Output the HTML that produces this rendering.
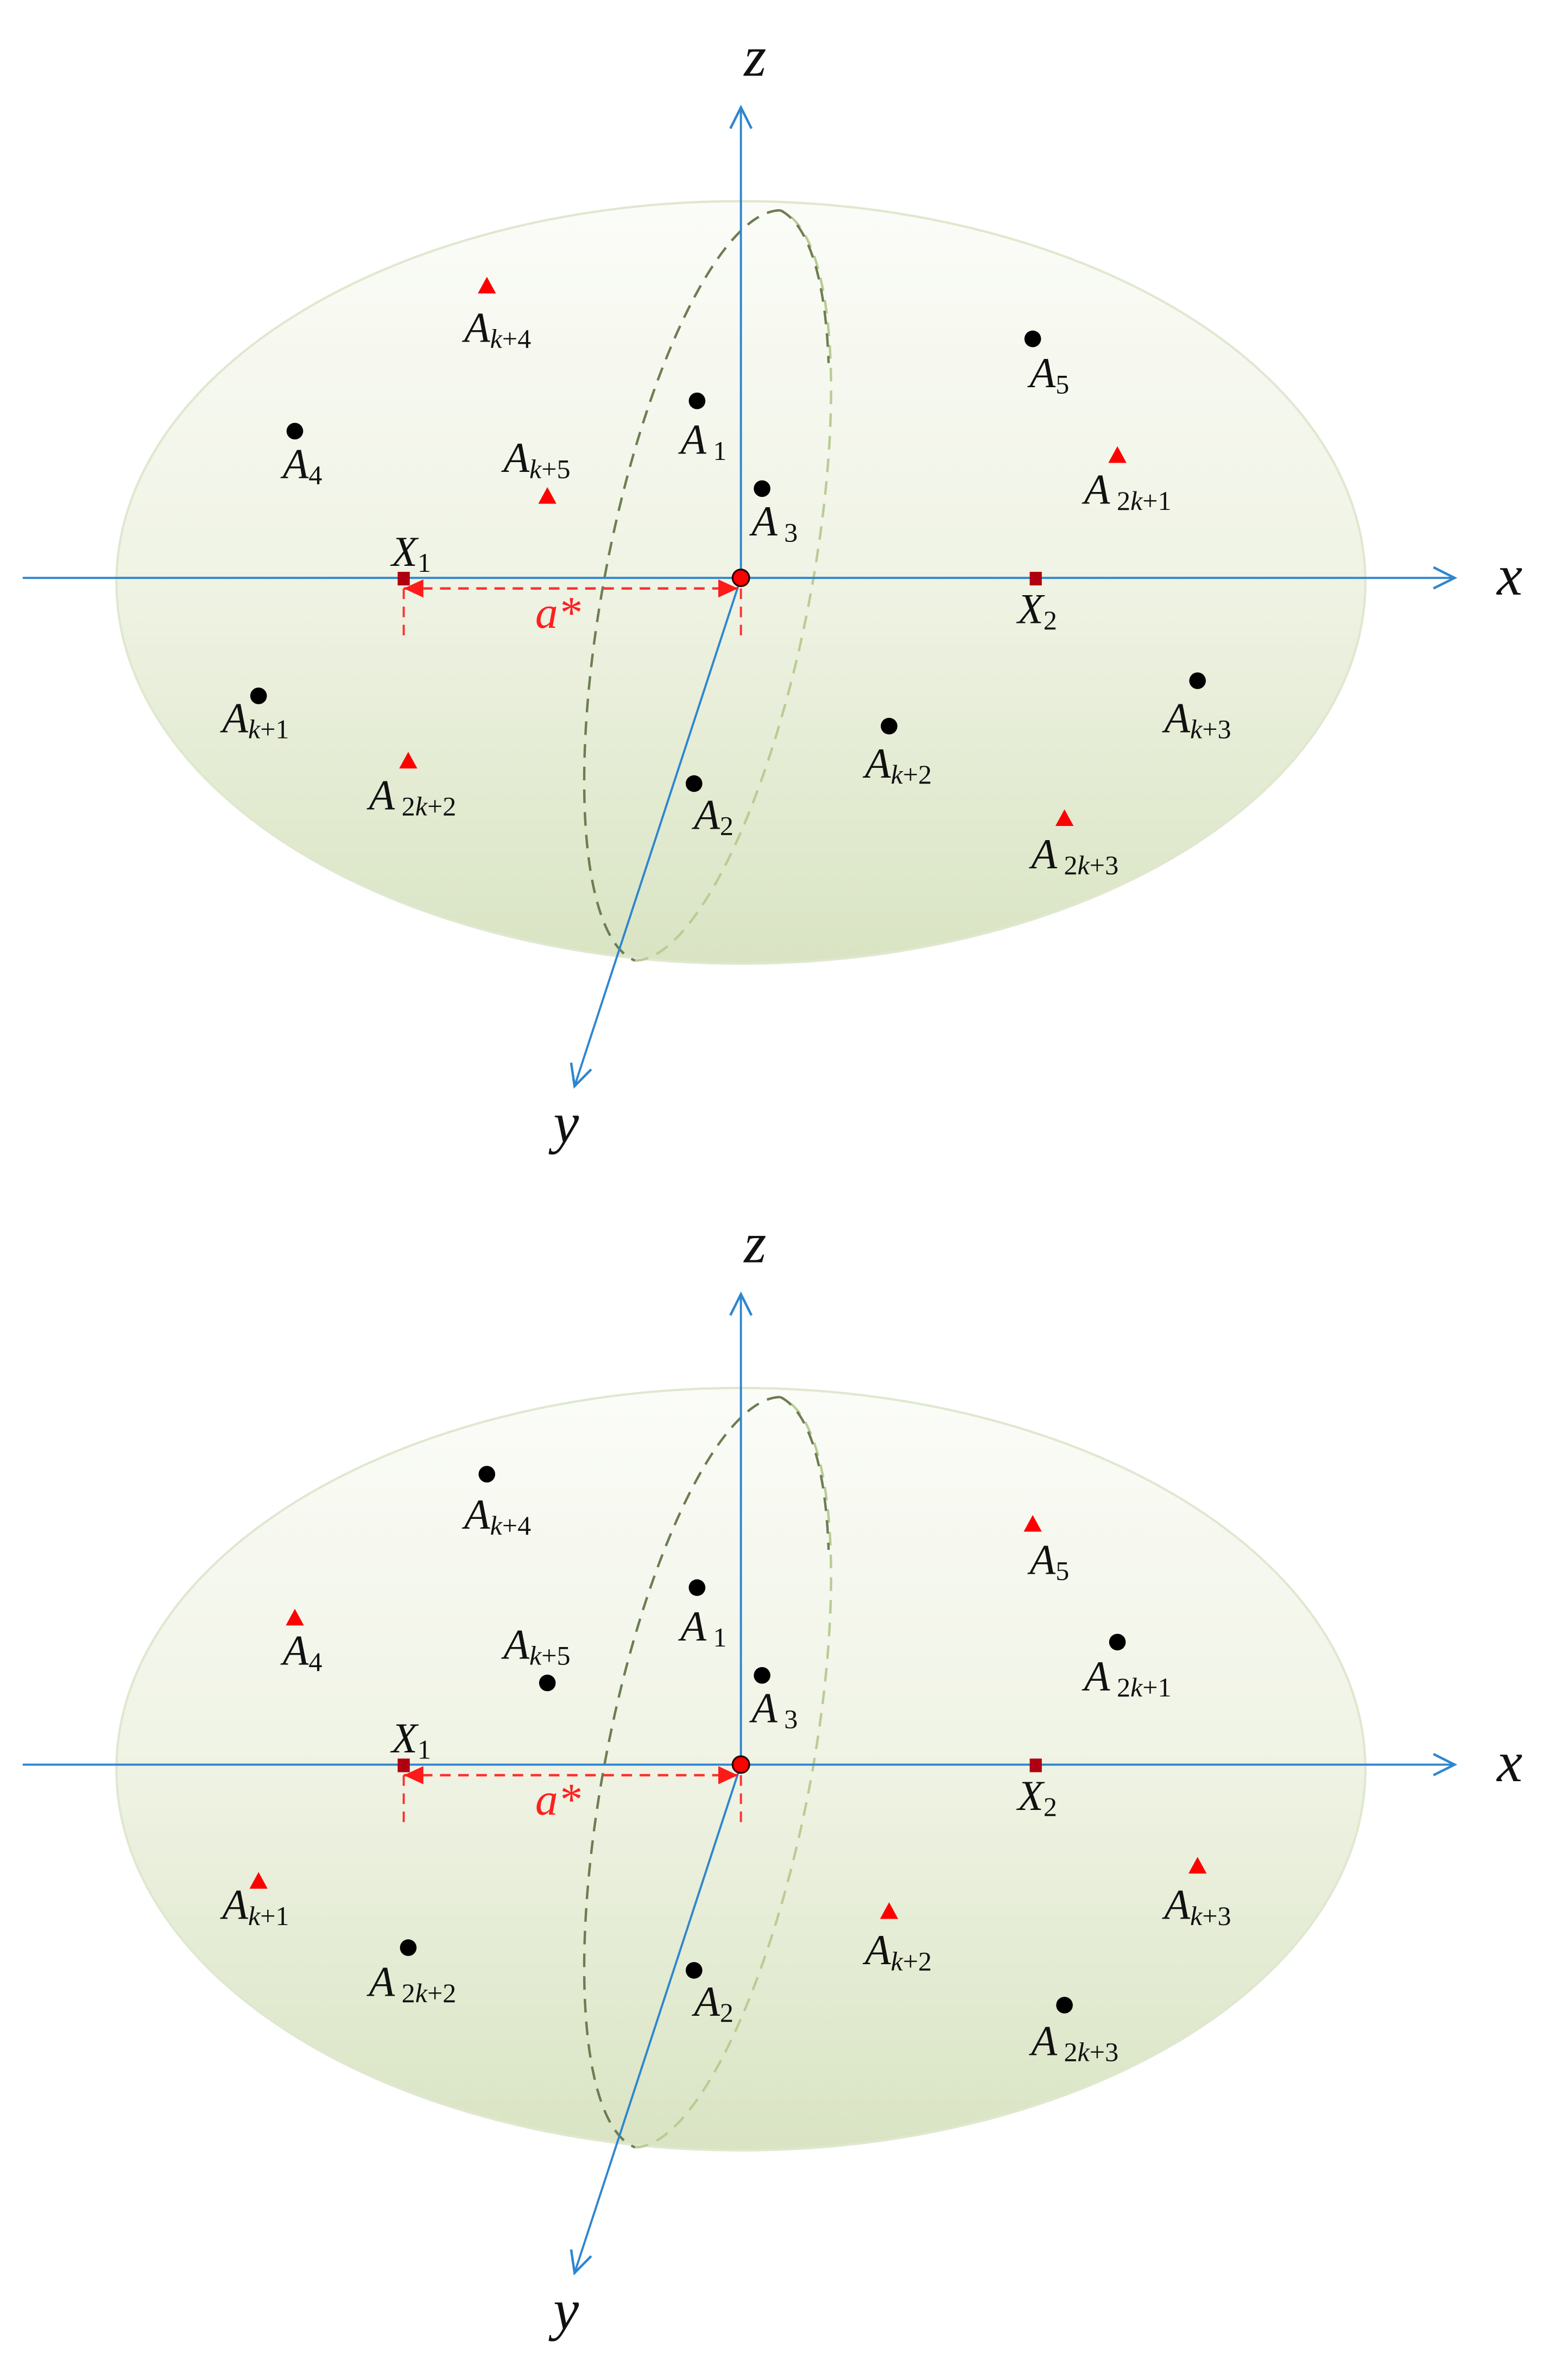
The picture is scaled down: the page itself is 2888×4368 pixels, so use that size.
<!DOCTYPE html>
<html><head><meta charset="utf-8"><style>
html,body{margin:0;padding:0;background:#fff}
svg{display:block;font-family:"Liberation Serif","Times New Roman",Times,serif}
svg text, svg tspan{font-family:"Liberation Serif","Times New Roman",Times,serif}
text{fill:#111}
.L{font-style:italic;font-size:28px}
.s{font-style:normal;font-size:18px}
.k{font-style:italic;font-size:18px}
.ax{font-style:italic;font-size:38px}
</style></head><body>
<svg width="2888" height="4368" viewBox="0 0 1037 1568" preserveAspectRatio="none" xmlns="http://www.w3.org/2000/svg" font-family="Liberation Serif, Times New Roman, serif">
<defs>
<linearGradient id="g" x1="0" y1="0" x2="0" y2="1">
<stop offset="0" stop-color="#fbfcf8"/><stop offset="0.5" stop-color="#eff3e4"/><stop offset="1" stop-color="#d9e4c3"/>
</linearGradient>
<marker id="ah" markerWidth="20" markerHeight="20" refX="16" refY="8" orient="auto" markerUnits="userSpaceOnUse">
<path d="M2,1 L16,8 L2,15" fill="none" stroke="#2f86cf" stroke-width="1.6"/>
</marker>
<marker id="ra" markerWidth="14" markerHeight="12" refX="13" refY="6" orient="auto-start-reverse" markerUnits="userSpaceOnUse">
<path d="M0,0 L13,6 L0,12 Z" fill="#ff1a1a"/>
</marker>
</defs>

<!-- ===== TOP ===== -->
<g>
<ellipse cx="490" cy="385" rx="413" ry="252" fill="url(#g)" stroke="#dfe8cf" stroke-width="1.5"/>
<path d="M516,139 A72,253 11 0 0 420,635" fill="none" stroke="#6d7d52" stroke-width="1.6" stroke-dasharray="9,6"/>
<path d="M420,635 A72,253 11 0 0 516,139" fill="none" stroke="#b9cc94" stroke-width="1.6" stroke-dasharray="9,6"/>
<path d="M516,139 A72,253 11 0 1 548,240" fill="none" stroke="#6d7d52" stroke-width="1.6" stroke-dasharray="9,6"/>
<line x1="15" y1="382" x2="962" y2="382" stroke="#2f86cf" stroke-width="1.4" marker-end="url(#ah)"/>
<line x1="490" y1="382" x2="490" y2="71" stroke="#2f86cf" stroke-width="1.4" marker-end="url(#ah)"/>
<line x1="490" y1="382" x2="380" y2="718" stroke="#2f86cf" stroke-width="1.4" marker-end="url(#ah)"/>
<line x1="267" y1="389" x2="488" y2="389" stroke="#ff3030" stroke-width="1.6" stroke-dasharray="7,5" marker-start="url(#ra)" marker-end="url(#ra)"/>
<line x1="267" y1="389" x2="267" y2="420" stroke="#ff3030" stroke-width="1.4" stroke-dasharray="7,5"/>
<line x1="490" y1="389" x2="490" y2="420" stroke="#ff3030" stroke-width="1.4" stroke-dasharray="7,5"/>
<rect x="263" y="378" width="8" height="9" fill="#b00010"/>
<rect x="681" y="378" width="8" height="9" fill="#b00010"/>
<circle cx="490" cy="382" r="5.5" fill="#f00" stroke="#300" stroke-width="1.2"/>
<text x="990" y="393" class="ax">x</text>
<text x="492" y="50" class="ax">z</text>
<text x="366" y="755" class="ax">y</text>
<text x="354" y="415" style="font-style:italic;font-size:30px;fill:#ff2020">a*</text>
<text x="259" y="374" class="L">X<tspan class="s" dy="4">1</tspan></text>
<text x="673" y="412" class="L">X<tspan class="s" dy="4">2</tspan></text>
<path d="M322,183 L328,194 L316,194Z" fill="#f00"/>
<circle cx="683" cy="224" r="5.5" fill="#000"/>
<circle cx="195" cy="285" r="5.5" fill="#000"/>
<path d="M362,322 L368,333 L356,333Z" fill="#f00"/>
<circle cx="461" cy="265" r="5.5" fill="#000"/>
<circle cx="504" cy="323" r="5.5" fill="#000"/>
<path d="M739,295 L745,306 L733,306Z" fill="#f00"/>
<circle cx="171" cy="460" r="5.5" fill="#000"/>
<path d="M270,497 L276,508 L264,508Z" fill="#f00"/>
<circle cx="459" cy="518" r="5.5" fill="#000"/>
<circle cx="588" cy="480" r="5.5" fill="#000"/>
<circle cx="792" cy="450" r="5.5" fill="#000"/>
<path d="M704,535 L710,546 L698,546Z" fill="#f00"/>
<text x="307" y="226" class="L">A<tspan class="k" dy="4">k</tspan><tspan class="s">+4</tspan></text>
<text x="681" y="256" class="L">A<tspan class="s" dy="4">5</tspan></text>
<text x="187" y="316" class="L">A<tspan class="s" dy="4">4</tspan></text>
<text x="333" y="312" class="L">A<tspan class="k" dy="4">k</tspan><tspan class="s">+5</tspan></text>
<text x="450" y="300" class="L">A<tspan class="s" dy="4"> 1</tspan></text>
<text x="497" y="354" class="L">A<tspan class="s" dy="4"> 3</tspan></text>
<text x="717" y="333" class="L">A<tspan class="s" dy="4"> 2</tspan><tspan class="k">k</tspan><tspan class="s">+1</tspan></text>
<text x="147" y="484" class="L">A<tspan class="k" dy="4">k</tspan><tspan class="s">+1</tspan></text>
<text x="244" y="535" class="L">A<tspan class="s" dy="4"> 2</tspan><tspan class="k">k</tspan><tspan class="s">+2</tspan></text>
<text x="459" y="548" class="L">A<tspan class="s" dy="4">2</tspan></text>
<text x="572" y="514" class="L">A<tspan class="k" dy="4">k</tspan><tspan class="s">+2</tspan></text>
<text x="770" y="484" class="L">A<tspan class="k" dy="4">k</tspan><tspan class="s">+3</tspan></text>
<text x="682" y="574" class="L">A<tspan class="s" dy="4"> 2</tspan><tspan class="k">k</tspan><tspan class="s">+3</tspan></text>
</g>

<!-- ===== BOTTOM ===== -->
<g transform="translate(0,784.5)">
<ellipse cx="490" cy="385" rx="413" ry="252" fill="url(#g)" stroke="#dfe8cf" stroke-width="1.5"/>
<path d="M516,139 A72,253 11 0 0 420,635" fill="none" stroke="#6d7d52" stroke-width="1.6" stroke-dasharray="9,6"/>
<path d="M420,635 A72,253 11 0 0 516,139" fill="none" stroke="#b9cc94" stroke-width="1.6" stroke-dasharray="9,6"/>
<path d="M516,139 A72,253 11 0 1 548,240" fill="none" stroke="#6d7d52" stroke-width="1.6" stroke-dasharray="9,6"/>
<line x1="15" y1="382" x2="962" y2="382" stroke="#2f86cf" stroke-width="1.4" marker-end="url(#ah)"/>
<line x1="490" y1="382" x2="490" y2="71" stroke="#2f86cf" stroke-width="1.4" marker-end="url(#ah)"/>
<line x1="490" y1="382" x2="380" y2="718" stroke="#2f86cf" stroke-width="1.4" marker-end="url(#ah)"/>
<line x1="267" y1="389" x2="488" y2="389" stroke="#ff3030" stroke-width="1.6" stroke-dasharray="7,5" marker-start="url(#ra)" marker-end="url(#ra)"/>
<line x1="267" y1="389" x2="267" y2="420" stroke="#ff3030" stroke-width="1.4" stroke-dasharray="7,5"/>
<line x1="490" y1="389" x2="490" y2="420" stroke="#ff3030" stroke-width="1.4" stroke-dasharray="7,5"/>
<rect x="263" y="378" width="8" height="9" fill="#b00010"/>
<rect x="681" y="378" width="8" height="9" fill="#b00010"/>
<circle cx="490" cy="382" r="5.5" fill="#f00" stroke="#300" stroke-width="1.2"/>
<text x="990" y="393" class="ax">x</text>
<text x="492" y="50" class="ax">z</text>
<text x="366" y="755" class="ax">y</text>
<text x="354" y="415" style="font-style:italic;font-size:30px;fill:#ff2020">a*</text>
<text x="259" y="374" class="L">X<tspan class="s" dy="4">1</tspan></text>
<text x="673" y="412" class="L">X<tspan class="s" dy="4">2</tspan></text>
<circle cx="322" cy="190" r="5.5" fill="#000"/>
<path d="M683,217 L689,228 L677,228Z" fill="#f00"/>
<path d="M195,279 L201,290 L189,290Z" fill="#f00"/>
<circle cx="362" cy="328" r="5.5" fill="#000"/>
<circle cx="461" cy="265" r="5.5" fill="#000"/>
<circle cx="504" cy="323" r="5.5" fill="#000"/>
<circle cx="739" cy="301" r="5.5" fill="#000"/>
<path d="M171,453 L177,464 L165,464Z" fill="#f00"/>
<circle cx="270" cy="503" r="5.5" fill="#000"/>
<circle cx="459" cy="518" r="5.5" fill="#000"/>
<path d="M588,473 L594,484 L582,484Z" fill="#f00"/>
<path d="M792,443 L798,454 L786,454Z" fill="#f00"/>
<circle cx="704" cy="541" r="5.5" fill="#000"/>
<text x="307" y="226" class="L">A<tspan class="k" dy="4">k</tspan><tspan class="s">+4</tspan></text>
<text x="681" y="256" class="L">A<tspan class="s" dy="4">5</tspan></text>
<text x="187" y="316" class="L">A<tspan class="s" dy="4">4</tspan></text>
<text x="333" y="312" class="L">A<tspan class="k" dy="4">k</tspan><tspan class="s">+5</tspan></text>
<text x="450" y="300" class="L">A<tspan class="s" dy="4"> 1</tspan></text>
<text x="497" y="354" class="L">A<tspan class="s" dy="4"> 3</tspan></text>
<text x="717" y="333" class="L">A<tspan class="s" dy="4"> 2</tspan><tspan class="k">k</tspan><tspan class="s">+1</tspan></text>
<text x="147" y="484" class="L">A<tspan class="k" dy="4">k</tspan><tspan class="s">+1</tspan></text>
<text x="244" y="535" class="L">A<tspan class="s" dy="4"> 2</tspan><tspan class="k">k</tspan><tspan class="s">+2</tspan></text>
<text x="459" y="548" class="L">A<tspan class="s" dy="4">2</tspan></text>
<text x="572" y="514" class="L">A<tspan class="k" dy="4">k</tspan><tspan class="s">+2</tspan></text>
<text x="770" y="484" class="L">A<tspan class="k" dy="4">k</tspan><tspan class="s">+3</tspan></text>
<text x="682" y="574" class="L">A<tspan class="s" dy="4"> 2</tspan><tspan class="k">k</tspan><tspan class="s">+3</tspan></text>
</g>
</svg>
</body></html>
